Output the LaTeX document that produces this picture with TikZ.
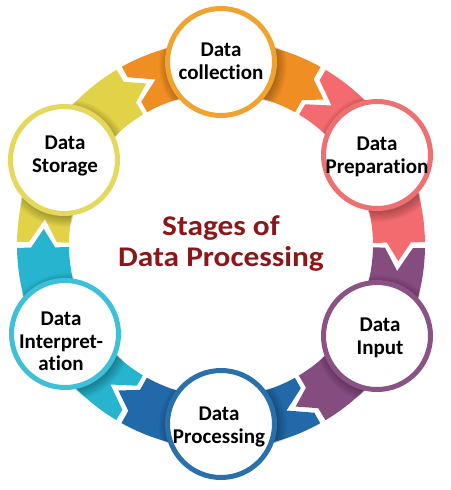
\documentclass[tikz,border=0pt]{standalone}
\usepackage{fontspec}
\setmainfont[Ligatures=NoCommon]{Carlito}
\newfontfamily\titlefont[FakeStretch=1.1, Ligatures=NoCommon]{Carlito}
\usetikzlibrary{calc}

% band colours and the matching circle rims
\definecolor{bandCollect}{RGB}{239,142,34}
\definecolor{rimCollect}{RGB}{241,163,48}
\definecolor{bandPrep}{RGB}{243,107,110}
\definecolor{rimPrep}{RGB}{239,112,112}
\definecolor{bandInput}{RGB}{133,76,128}
\definecolor{rimInput}{RGB}{138,82,133}
\definecolor{bandProc}{RGB}{33,105,168}
\definecolor{rimProc}{RGB}{42,112,172}
\definecolor{bandInterp}{RGB}{38,180,206}
\definecolor{rimInterp}{RGB}{62,192,216}
\definecolor{bandStore}{RGB}{226,210,72}
\definecolor{rimStore}{RGB}{229,216,92}
\definecolor{titleRed}{RGB}{140,22,24}

\tikzset{
  stage/.style={circle, draw=#1, line width=5pt, fill=white,
                minimum size=107pt, inner sep=0pt, outer sep=0pt},
  lbl/.style={anchor=north, inner sep=0pt, align=center,
              font=\fontsize{21}{22.5}\selectfont\bfseries, text=black},
  headline/.style={anchor=north, inner sep=0pt, align=center, text=titleRed,
                   font=\titlefont\bfseries\fontsize{28.5}{31}\selectfont},
}

\begin{document}
\begin{tikzpicture}[x=1pt, y=1pt]
  \useasboundingbox (-221,-245) rectangle (229,245);

  % ring of chevron bands, one per stage, running clockwise
  \foreach \t/\col in {90/bandCollect, 30/bandPrep, -30/bandInput,
                       -90/bandProc, -150/bandInterp, 150/bandStore} {
    \pgfmathsetmacro\s{\t+30-0.9}   % notched tail edge
    \pgfmathsetmacro\sa{\t+30-8.4}  % apex of the notch
    \pgfmathsetmacro\e{\t-30+0.8}   % shoulders of the head
    \pgfmathsetmacro\ea{\t-30-5.2}  % point of the head
    \fill[\col] (\s:204) arc[start angle=\s, end angle=\e, radius=204]
      -- (\e:190) -- (\ea:178) -- (\e:166) -- (\e:152)
      arc[start angle=\e, end angle=\s, radius=152]
      -- (\s:164) -- (\sa:178) -- (\s:192) -- cycle;
  }

  % stage centres
  \coordinate (pCollect) at (0,183);
  \coordinate (pPrep) at (156,90);
  \coordinate (pInput) at (156,-91);
  \coordinate (pProc) at (0,-179);
  \coordinate (pInterp) at (-156,-89);
  \coordinate (pStore) at (-157,85);

  % soft shadow cast by each circle onto its band
  \begin{scope}[even odd rule]
    \clip (0,0) circle[radius=205] (0,0) circle[radius=151];
    \foreach \p in {pCollect,pPrep,pInput,pProc,pInterp,pStore} {
      \foreach \k in {1,...,9} {
        \fill[black, opacity=0.03] ($(\p)+(2,-3)$) circle[radius=53+1.2*\k];
      }
    }
  \end{scope}

  % stage circles
  \node[stage=rimCollect] (collect) at (pCollect) {};
  \node[stage=rimPrep] (prep) at (pPrep) {};
  \node[stage=rimInput] (input) at (pInput) {};
  \node[stage=rimProc] (proc) at (pProc) {};
  \node[stage=rimInterp] (interp) at (pInterp) {};
  \node[stage=rimStore] (store) at (pStore) {};

  % stage labels
  \node[lbl] (collectText) at (0,202) {Data\\collection};
  \node[lbl] (prepText) at (156,108) {Data\\Preparation};
  \node[lbl] (inputText) at (159,-73) {Data\\Input};
  \node[lbl] (procText) at (-2,-162) {Data\\Processing};
  \node[lbl] (interpText) at (-160,-67) {Data\\Interpret-\\ation};
  \node[lbl] (storeText) at (-156,109) {Data\\Storage};

  % centre heading
  \node[headline] (heading) at (0,30) {Stages of\\Data Processing};
\end{tikzpicture}
\end{document}
